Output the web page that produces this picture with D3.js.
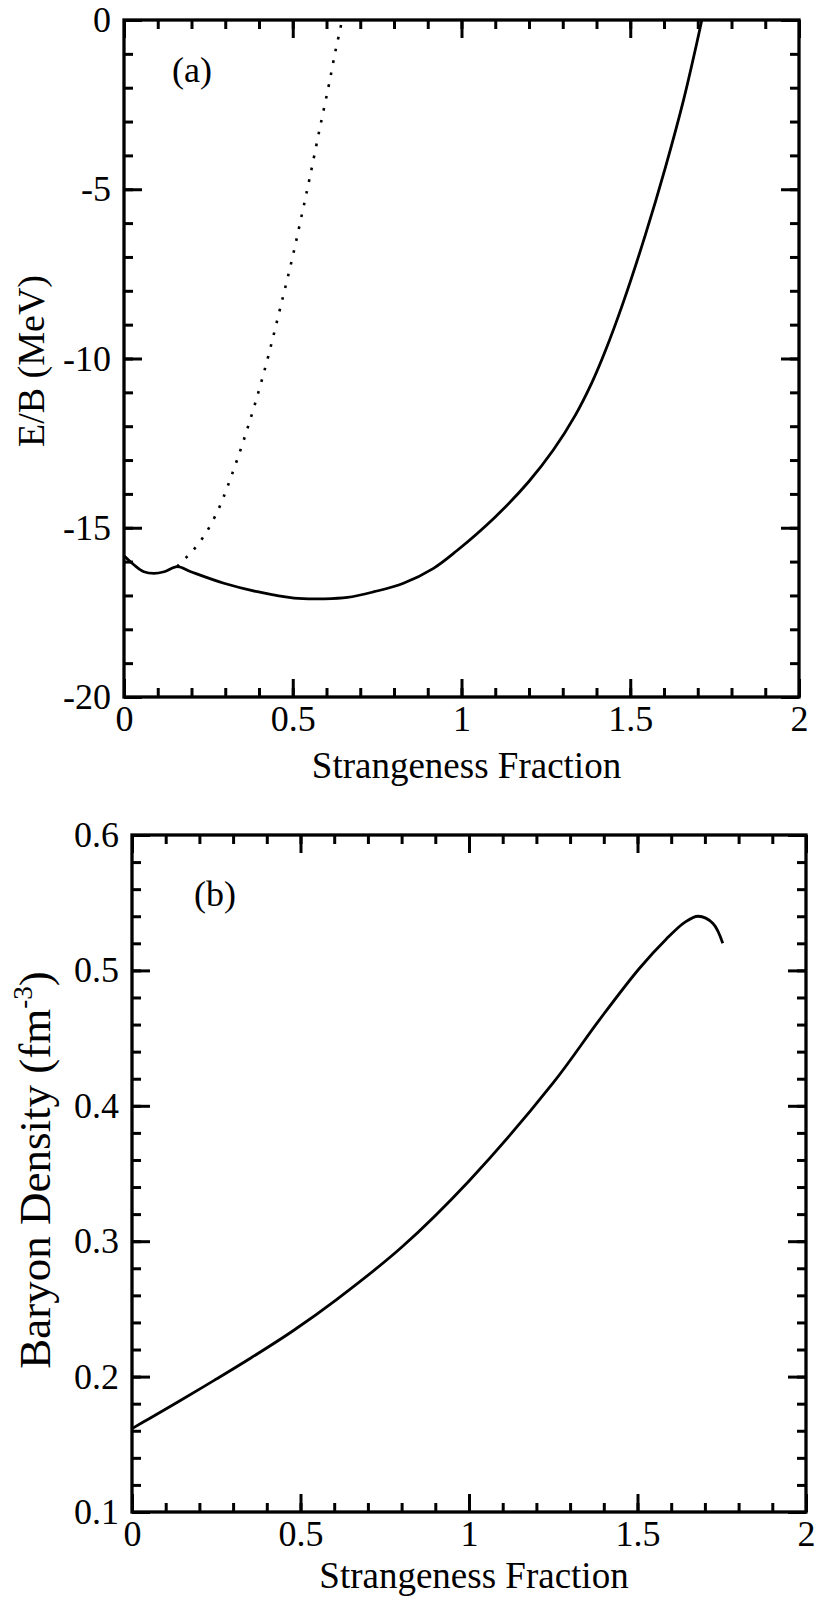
<!DOCTYPE html>
<html>
<head>
<meta charset="utf-8">
<script src="https://cdn.jsdelivr.net/npm/d3@7"></script>
<style>
  body { margin: 0; background: #fff; }
  svg text { font-family: "Liberation Serif", "Tinos", "DejaVu Serif", "Times New Roman", Times, serif; fill: #000; }
</style>
</head>
<body>
<svg id="chart" width="819" height="1600"></svg>
<script>
// panel (a): energy per baryon vs strangeness fraction
const aSolidX = [0, 0.03, 0.059, 0.089, 0.119, 0.158, 0.198, 0.296, 0.395, 0.504, 0.593, 0.662, 0.741, 0.828, 0.917, 0.986, 1.100, 1.199, 1.273, 1.337, 1.386, 1.426, 1.478, 1.545, 1.604, 1.658, 1.701, 1.712];
const aSolidY = [-15.83, -16.10, -16.30, -16.35, -16.30, -16.15, -16.30, -16.64, -16.89, -17.08, -17.10, -17.06, -16.89, -16.64, -16.20, -15.68, -14.68, -13.64, -12.69, -11.68, -10.72, -9.78, -8.38, -6.34, -4.36, -2.36, -0.51, 0];
const aDotX = [0.158, 0.168, 0.2, 0.24, 0.28, 0.308, 0.36, 0.415, 0.47, 0.502, 0.53, 0.551, 0.578, 0.606, 0.626, 0.64, 0.646];
const aDotY = [-16.15, -16.03, -15.72, -15.2, -14.45, -13.75, -12.25, -10.4, -8.22, -6.89, -5.61, -4.63, -3.30, -1.97, -0.94, -0.30, 0];

// panel (b): baryon density vs strangeness fraction
const bX = [0, 0.052, 0.141, 0.245, 0.349, 0.477, 0.606, 0.8, 1.0, 1.249, 1.387, 1.506, 1.585, 1.64, 1.68, 1.724, 1.753];
const bY = [0.1616, 0.1691, 0.182, 0.1974, 0.2132, 0.2337, 0.2567, 0.2955, 0.3445, 0.4167, 0.4635, 0.5016, 0.523, 0.5355, 0.540, 0.5347, 0.520];

const xTicks = [0, 0.5, 1, 1.5, 2];
const xTickLabels = ["0", "0.5", "1", "1.5", "2"];
const aYTicks = [-20, -15, -10, -5, 0];
const aYTickLabels = ["-20", "-15", "-10", "-5", "0"];
const bYTicks = [0.1, 0.2, 0.3, 0.4, 0.5, 0.6];
const bYTickLabels = ["0.1", "0.2", "0.3", "0.4", "0.5", "0.6"];

const svg = d3.select("#chart");
const MAJOR = 18, MINOR = 9;

function drawPanel(p) {
  const x = d3.scaleLinear().domain([0, 2]).range([p.left, p.right]);
  const y = d3.scaleLinear().domain(p.yDomain).range([p.bottom, p.top]);
  const g = svg.append("g");

  const xMinor = d3.range(0, 2.0001, 0.1);
  const yMinor = d3.range(p.yDomain[0], p.yDomain[1] + 1e-9, p.yMinorStep);

  const styleAxis = sel => {
    sel.attr("font-family", null);
    sel.select(".domain").remove();
    sel.selectAll(".tick line").attr("stroke", "#000").attr("stroke-width", 3);
    sel.selectAll(".tick text").attr("font-size", 36);
  };

  // bottom
  g.append("g").attr("transform", `translate(0,${p.bottom})`)
    .call(d3.axisBottom(x).tickValues(xMinor).tickSize(-MINOR).tickFormat(""))
    .call(styleAxis);
  g.append("g").attr("transform", `translate(0,${p.bottom})`)
    .call(d3.axisBottom(x).tickValues(xTicks).tickSize(-MAJOR).tickPadding(8)
      .tickFormat((d, i) => xTickLabels[i]))
    .call(styleAxis);
  // top
  g.append("g").attr("transform", `translate(0,${p.top})`)
    .call(d3.axisTop(x).tickValues(xMinor).tickSize(-MINOR).tickFormat(""))
    .call(styleAxis);
  g.append("g").attr("transform", `translate(0,${p.top})`)
    .call(d3.axisTop(x).tickValues(xTicks).tickSize(-MAJOR).tickFormat(""))
    .call(styleAxis);
  // left
  g.append("g").attr("transform", `translate(${p.left},0)`)
    .call(d3.axisLeft(y).tickValues(yMinor).tickSize(-MINOR).tickFormat(""))
    .call(styleAxis);
  g.append("g").attr("transform", `translate(${p.left},0)`)
    .call(d3.axisLeft(y).tickValues(p.yTicks).tickSize(-MAJOR).tickPadding(13)
      .tickFormat((d, i) => p.yTickLabels[i]))
    .call(styleAxis);
  // right
  g.append("g").attr("transform", `translate(${p.right},0)`)
    .call(d3.axisRight(y).tickValues(yMinor).tickSize(-MINOR).tickFormat(""))
    .call(styleAxis);
  g.append("g").attr("transform", `translate(${p.right},0)`)
    .call(d3.axisRight(y).tickValues(p.yTicks).tickSize(-MAJOR).tickFormat(""))
    .call(styleAxis);

  g.append("rect")
    .attr("x", p.left).attr("y", p.top)
    .attr("width", p.right - p.left).attr("height", p.bottom - p.top)
    .attr("fill", "none").attr("stroke", "#000").attr("stroke-width", 3.3);

  const line = d3.line().x(d => x(d[0])).y(d => y(d[1])).curve(d3.curveCatmullRom.alpha(0.5));
  p.series.forEach(s => {
    g.append("path")
      .datum(s.xs.map((v, i) => [v, s.ys[i]]))
      .attr("fill", "none").attr("stroke", "#000")
      .attr("stroke-width", s.dotted ? 2.6 : 2.8)
      .attr("stroke-dasharray", s.dotted ? "2.6 9.5" : null)
      .attr("stroke-linejoin", "round")
      .attr("d", line);
  });

  // panel tag
  g.append("text").attr("x", p.tag.x).attr("y", p.tag.y)
    .attr("font-size", 36).text(p.tag.text);

  // x title
  g.append("text")
    .attr("x", (p.left + p.right) / 2 + 5).attr("y", p.xTitleY)
    .attr("text-anchor", "middle").attr("font-size", 37)
    .text("Strangeness Fraction");

  return g;
}

const gA = drawPanel({
  left: 124, right: 799, top: 20, bottom: 697,
  yDomain: [-20, 0], yMinorStep: 1,
  yTicks: aYTicks, yTickLabels: aYTickLabels,
  series: [
    { xs: aSolidX, ys: aSolidY, dotted: false },
    { xs: aDotX, ys: aDotY, dotted: true }
  ],
  tag: { x: 172, y: 82, text: "(a)" },
  xTitleY: 778
});
gA.append("text")
  .attr("transform", "translate(44,361) rotate(-90)")
  .attr("text-anchor", "middle").attr("font-size", 38)
  .text("E/B (MeV)");

const gB = drawPanel({
  left: 132, right: 806, top: 835, bottom: 1512,
  yDomain: [0.1, 0.6], yMinorStep: 0.02,
  yTicks: bYTicks, yTickLabels: bYTickLabels,
  series: [
    { xs: bX, ys: bY, dotted: false }
  ],
  tag: { x: 194, y: 906, text: "(b)" },
  xTitleY: 1588
});
const bTitle = gB.append("text")
  .attr("transform", "translate(50,1170) rotate(-90)")
  .attr("text-anchor", "middle").attr("font-size", 45);
bTitle.append("tspan").text("Baryon Density (fm");
bTitle.append("tspan").attr("font-size", 27).attr("dy", -18).text("-3");
bTitle.append("tspan").attr("dy", 18).text(")");
</script>
</body>
</html>
